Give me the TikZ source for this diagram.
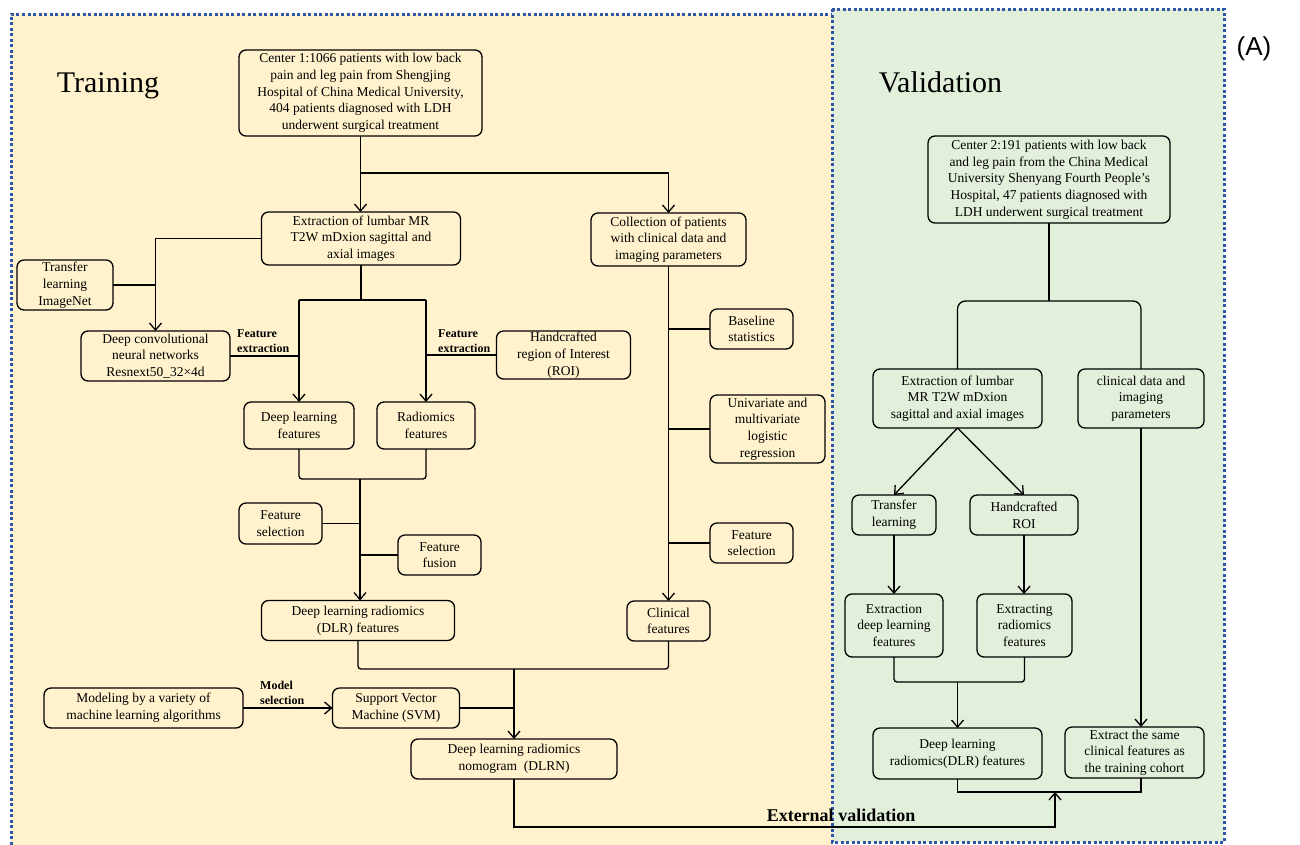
\documentclass[tikz,border=0pt]{standalone}
\usepackage{fontspec}
\setmainfont{Liberation Serif}
\newfontfamily\panelsans{Liberation Sans}
\usetikzlibrary{arrows.meta}

\definecolor{trainfill}{HTML}{FFF2CC}
\definecolor{validfill}{HTML}{E2EFDA}
\definecolor{frameblue}{HTML}{2F55A8}

\tikzset{
  box/.style 2 args={draw, rounded corners=7pt, line width=1.3pt, align=center,
    inner sep=1pt, outer sep=0pt, minimum width=#1pt, minimum height=#2pt,
    font=\fontsize{13.5}{16.7}\selectfont},
  tag/.style={align=left, inner sep=0pt, font=\bfseries\fontsize{12}{15}\selectfont},
  link/.style={line width=1.3pt},
  flow/.style={line width=1.3pt, -{Straight Barb[length=7pt,width=12pt]}},
  frame/.style={draw=frameblue, line width=3pt, dash pattern=on 3pt off 2.5pt},
}

\begin{document}
\begin{tikzpicture}[x=1pt,y=-1pt]
  \useasboundingbox (0,0) rectangle (1300,844);
  \fill[trainfill] (11,14) rectangle (832,850);
  \draw[frame] (11,850) -- (11,14) -- (832,14);
  \fill[validfill] (832,9) rectangle (1224,842);
  \draw[frame] (832,9) rectangle (1224,842);

  \node[anchor=base, font=\fontsize{30}{34}\selectfont] (training) at (108,92) {Training};
  \node[anchor=base, font=\fontsize{30}{34}\selectfont] (validation) at (940.5,92) {Validation};
  \node[font=\panelsans\fontsize{26}{30}\selectfont] (panel) at (1254,49) {(A)};

  \node[box={243}{86}] (center1) at (360.5,93) {Center 1:1066 patients with low back\\pain and leg pain from Shengjing\\Hospital of China Medical University,\\404 patients diagnosed with LDH\\underwent surgical treatment};
  \node[box={199}{53}] (extraction) at (361,238.5) {Extraction of lumbar MR\\T2W mDxion sagittal and\\axial images};
  \node[box={155}{53}] (collection) at (668.5,239.5) {Collection of patients\\with clinical data and\\imaging parameters};
  \node[box={96}{50}] (transfer) at (65,285) {Transfer\\learning\\ImageNet};
  \node[box={149}{50}] (dcnn) at (155.5,356) {Deep convolutional\\neural networks\\Resnext50\_32×4d};
  \node[box={134}{48}] (handroi) at (563.5,355) {Handcrafted\\region of Interest\\(ROI)};
  \node[box={110}{47}] (dlfeat) at (299,425.5) {Deep learning\\features};
  \node[box={98}{47}] (radfeat) at (426,425.5) {Radiomics\\features};
  \node[box={83}{41}] (featsel) at (280.5,523.5) {Feature\\selection};
  \node[box={83}{40}] (featfusion) at (439.5,555) {Feature\\fusion};
  \node[box={193}{40}] (dlrfeat) at (358,620.5) {Deep learning radiomics\\(DLR) features};
  \node[box={83}{40}] (baseline) at (751.5,329) {Baseline\\statistics};
  \node[box={115}{68}] (logistic) at (767.5,429) {Univariate and\\multivariate\\logistic\\regression};
  \node[box={83}{40}] (clinsel) at (751.5,543) {Feature\\selection};
  \node[box={83}{40}] (clinical) at (668.5,621) {Clinical\\features};
  \node[box={199}{40}] (modeling) at (143.5,708) {Modeling by a variety of\\machine learning algorithms};
  \node[box={127}{40}] (svm) at (396,708) {Support Vector\\Machine (SVM)};
  \node[box={206}{40}] (dlrn) at (514,759) {Deep learning radiomics\\nomogram\enspace(DLRN)};

  \node[box={242}{87}] (center2) at (1049,179.5) {Center 2:191 patients with low back\\and leg pain from the China Medical\\University Shenyang Fourth People's\\Hospital, 47 patients diagnosed with\\LDH underwent surgical treatment};
  \node[box={169}{59}] (vextraction) at (957.5,398.5) {Extraction of lumbar\\MR T2W mDxion\\sagittal and axial images};
  \node[box={126}{59}] (vclinical) at (1141,398.5) {clinical data and\\imaging\\parameters};
  \node[box={84}{40}] (vtransfer) at (894,515) {Transfer\\learning};
  \node[box={108}{40}] (vroi) at (1024,515) {Handcrafted\\ROI};
  \node[box={98}{63}] (vdlfeat) at (894,625.5) {Extraction\\deep learning\\features};
  \node[box={95}{63}] (vradfeat) at (1024.5,625.5) {Extracting\\radiomics\\features};
  \node[box={169}{51}] (vdlrfeat) at (957.5,753.5) {Deep learning\\radiomics(DLR) features};
  \node[box={139}{51}] (vsame) at (1134.5,752.5) {Extract the same\\clinical features as\\the training cohort};

  \node[tag, anchor=west] (extract1) at (237,341.5) {Feature\\extraction};
  \node[tag, anchor=west] (extract2) at (438,341.5) {Feature\\extraction};
  \node[tag, anchor=west] (modelsel) at (260,693) {Model\\selection};
  \node[font=\bfseries\fontsize{18}{20}\selectfont] (extvalid) at (841,815) {External validation};

  \coordinate (split1) at (360.5,173);
  \coordinate (split2) at (361,300);
  \coordinate (merge1) at (360,479);
  \coordinate (merge2) at (514,669);
  \coordinate (split3) at (1049,301);
  \coordinate (merge3) at (957.5,682);
  \coordinate (merge4) at (1055,792);
  \coordinate (turn) at (1055,827);

  \draw[flow] (center1.south) -- (center1.south |- extraction.north);
  \draw[flow] (split1) -| (collection.north);
  \draw[flow] (extraction.west) -| (dcnn.north);
  \draw[link] (transfer.east) -- (transfer.east -| dcnn.north);
  \draw[link] (extraction.south) -- (split2);
  \draw[link] (dlfeat.north |- split2) -- (radfeat.north |- split2);
  \draw[flow] (dlfeat.north |- split2) -- (dlfeat.north);
  \draw[flow] (radfeat.north |- split2) -- (radfeat.north);
  \draw[link] (dcnn.east) -- (dcnn.east -| dlfeat.north);
  \draw[link] (handroi.west) -- (handroi.west -| radfeat.north);
  \draw[link, rounded corners=3pt] (dlfeat.south) |- (merge1) -| (radfeat.south);
  \draw[flow] (merge1) -- (merge1 |- dlrfeat.north);
  \draw[link] (featsel.east) -- (featsel.east -| merge1);
  \draw[link] (featfusion.west) -- (featfusion.west -| merge1);
  \draw[flow] (collection.south) -- (clinical.north);
  \draw[link] (baseline.west) -- (baseline.west -| collection.south);
  \draw[link] (logistic.west) -- (logistic.west -| collection.south);
  \draw[link] (clinsel.west) -- (clinsel.west -| collection.south);
  \draw[link, rounded corners=3pt] (dlrfeat.south) |- (merge2) -| (clinical.south);
  \draw[flow] (merge2) -- (merge2 |- dlrn.north);
  \draw[link] (svm.east) -- (svm.east -| merge2);
  \draw[flow] (modeling.east) -- (svm.west);
  \draw[flow] (dlrn.south) |- (turn) -- (merge4);

  \draw[link] (center2.south) -- (split3);
  \draw[link, rounded corners=8pt] (vextraction.north) |- (split3) -| (vclinical.north);
  \draw[flow] (vextraction.south) -- (vtransfer.north);
  \draw[flow] (vextraction.south) -- (vroi.north);
  \draw[flow] (vtransfer.south) -- (vdlfeat.north);
  \draw[flow] (vroi.south) -- (vroi.south |- vradfeat.north);
  \draw[link, rounded corners=3pt] (vdlfeat.south) |- (merge3) -| (vradfeat.south);
  \draw[flow] (merge3) -- (vdlrfeat.north);
  \draw[flow] (vclinical.south) -- (vclinical.south |- vsame.north);
  \draw[link] (vdlrfeat.south) |- (merge4) -| (vclinical.south |- vsame.south);
\end{tikzpicture}
\end{document}
